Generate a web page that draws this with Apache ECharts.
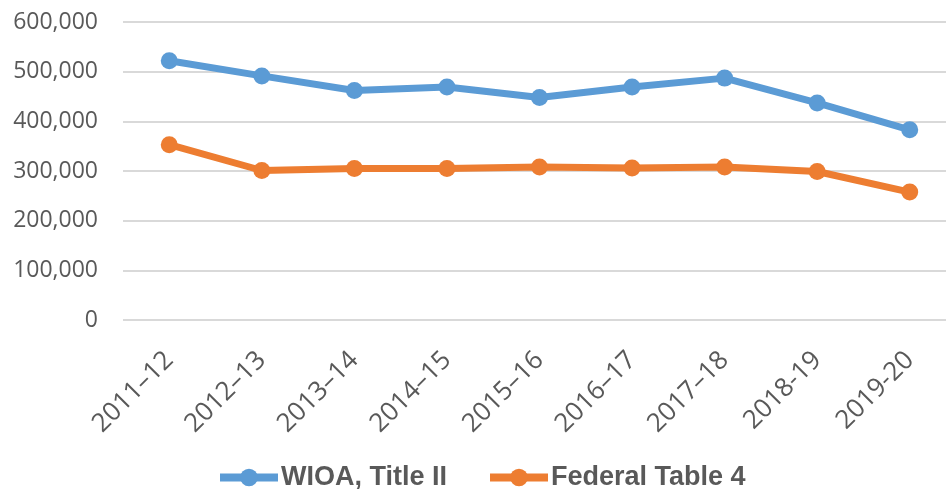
<!DOCTYPE html>
<html>
<head>
<meta charset="utf-8">
<script src="https://cdn.jsdelivr.net/npm/echarts@6/dist/echarts.min.js"></script>
<style>html,body{margin:0;padding:0;background:#fff;}#c{width:946px;height:489px;}</style>
</head>
<body>
<div id="c"></div>
<script>
const categories = ['2011–12','2012–13','2013–14','2014–15','2015–16','2016–17','2017–18','2018-19','2019-20'];
const wioa = [522000, 491500, 462000, 469000, 448000, 469000, 487000, 437000, 383000];
const federal = [353000, 301000, 305000, 305000, 308000, 306000, 308000, 299000, 257500];
const seriesNames = ['WIOA, Title II', 'Federal Table 4'];
const yTicks = {min: 0, max: 600000, interval: 100000};

const chart = echarts.init(document.getElementById('c'), null, {renderer: 'canvas'});
chart.setOption({
  animation: false,
  grid: {left: 123, top: 22, width: 833, height: 298, containLabel: false, outerBoundsMode: 'none'},
  legend: {
    data: seriesNames,
    top: 464,
    left: 216,
    padding: 0,
    itemWidth: 58,
    itemHeight: 22,
    itemGap: 39,
    lineStyle: {width: 8},
    textStyle: {fontFamily: 'Liberation Sans', fontWeight: 'bold', fontSize: 27, color: '#595959', padding: [0,0,0,-2]}
  },
  xAxis: {
    type: 'category',
    data: categories,
    boundaryGap: true,
    axisLine: {show: false},
    axisTick: {show: false},
    axisLabel: {rotate: 45, fontFamily: 'Open Sans', fontSize: 26, color: '#595959', margin: 36, interval: 0,
                align: 'right', verticalAlign: 'middle'}
  },
  yAxis: {
    type: 'value',
    min: yTicks.min, max: yTicks.max, interval: yTicks.interval,
    axisLine: {show: false},
    axisTick: {show: false},
    splitLine: {lineStyle: {color: '#d9d9d9', width: 2}},
    axisLabel: {
      fontFamily: 'Open Sans', fontSize: 23, color: '#595959', margin: 25,
      formatter: v => v.toLocaleString('en-US')
    }
  },
  series: [
    {name: seriesNames[0], type: 'line', data: wioa, symbol: 'circle', symbolSize: 17,
     lineStyle: {width: 7, color: '#5B9BD5'}, itemStyle: {color: '#5B9BD5'}},
    {name: seriesNames[1], type: 'line', data: federal, symbol: 'circle', symbolSize: 17,
     lineStyle: {width: 7, color: '#ED7D31'}, itemStyle: {color: '#ED7D31'}}
  ]
});
</script>
</body>
</html>
